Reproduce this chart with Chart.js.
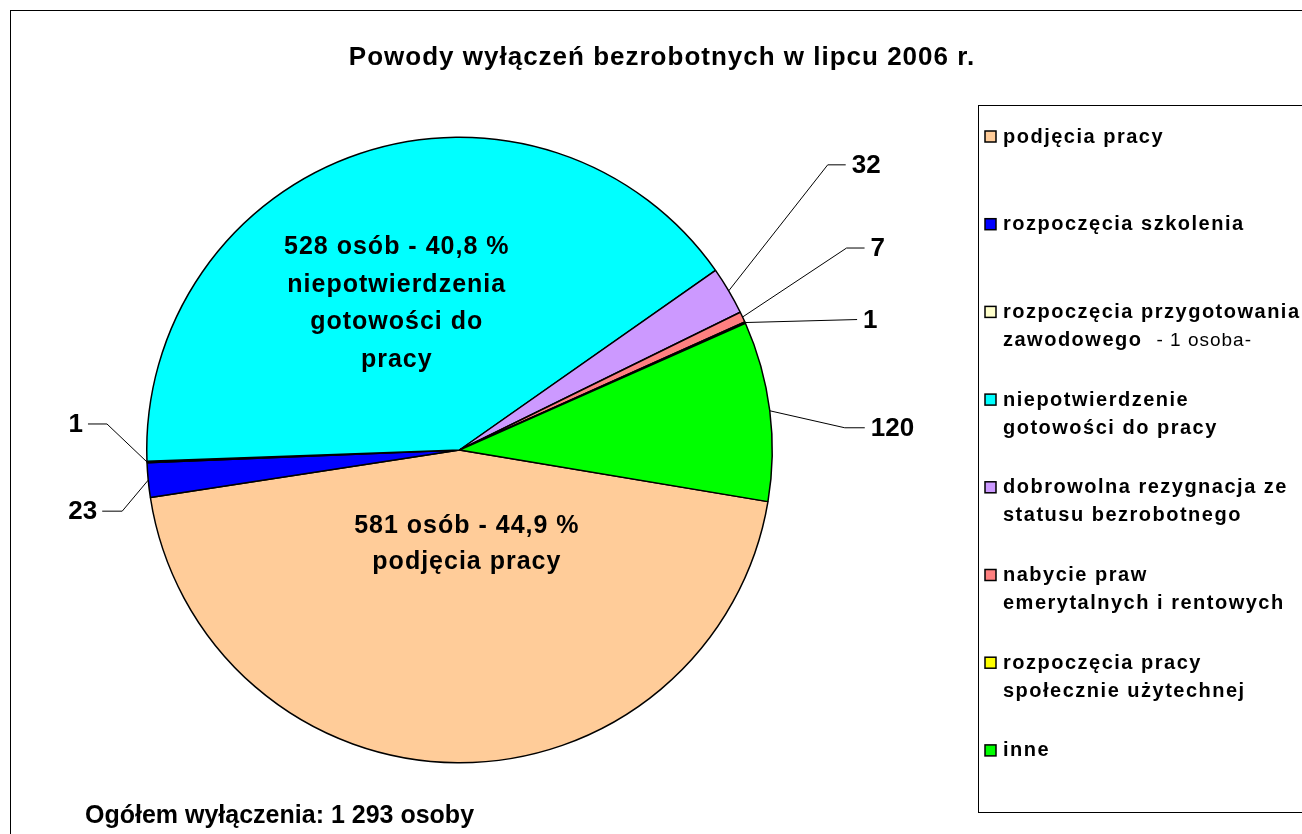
<!DOCTYPE html>
<html>
<head>
<meta charset="utf-8">
<title>Powody wyłączeń bezrobotnych</title>
<script src="https://cdn.jsdelivr.net/npm/chart.js@4.4.1/dist/chart.umd.min.js"></script>
<style>
    html, body { margin: 0; padding: 0; background: #fff; overflow: hidden; }
    #wrap { width: 1302px; height: 834px; }
</style>
</head>
<body>
<div id="wrap"><canvas id="myChart" width="1302" height="834"></canvas></div>
<script>
// categories (legend text, '\n' = line break)
var categories = [
    'podjęcia pracy',
    'rozpoczęcia szkolenia',
    'rozpoczęcia przygotowania\nzawodowego',
    'niepotwierdzenie\ngotowości do pracy',
    'dobrowolna rezygnacja ze\nstatusu bezrobotnego',
    'nabycie praw\nemerytalnych i rentowych',
    'rozpoczęcia pracy\nspołecznie użytechnej',
    'inne'
];
var values = [581, 23, 1, 528, 32, 7, 1, 120];
var colors = ['#FFCC99', '#0000FF', '#FFFFCC', '#00FFFF', '#CC99FF', '#FF8080', '#FFFF00', '#00FF00'];
var legendNotes = ['', '', '- 1 osoba-', '', '', '', '', ''];

var titleText = 'Powody wyłączeń bezrobotnych w lipcu 2006 r.';
var footerText = 'Ogółem wyłączenia: 1 293 osoby';

// big labels inside the two largest slices
var insideLabels = [
    { index: 3, extra: ['niepotwierdzenia', 'gotowości do', 'pracy'], r: 0.51, dx: -12, dy: 5, lineH: 37.5 },
    { index: 0, extra: ['podjęcia pracy'], r: 0.30, dx: 8, dy: 0, lineH: 36 }
];
// small value labels outside with leader lines (elbow offset from the slice edge, horizontal tail)
var outsideLabels = [
    { index: 4, ex: 99, ey: -126, tail: 18 },
    { index: 5, ex: 104, ey: -69, tail: 18 },
    { index: 6, ex: 112, ey: -3, tail: 0 },
    { index: 7, ex: 75, ey: 17, tail: 20 },
    { index: 2, ex: -40, ey: -38, tail: -19 },
    { index: 1, ex: -26, ey: 31, tail: -20 }
];

var FONT = '"Liberation Sans", Arial, sans-serif';

var decorPlugin = {
    id: 'decor',
    afterDraw: function (chart) {
        var ctx = chart.ctx;
        var meta = chart.getDatasetMeta(0);
        var total = values.reduce(function (a, b) { return a + b; }, 0);

        ctx.save();

        // outer frame
        ctx.strokeStyle = '#000';
        ctx.lineWidth = 1;
        ctx.strokeRect(10.5, 10.5, 1310, 840);

        // title
        ctx.fillStyle = '#000';
        ctx.textAlign = 'center';
        ctx.textBaseline = 'middle';
        ctx.font = 'bold 26px ' + FONT;
        ctx.letterSpacing = '1px';
        ctx.fillText(titleText, 662, 58);
        ctx.letterSpacing = '0px';

        // footer
        ctx.textAlign = 'left';
        ctx.font = 'bold 25px ' + FONT;
        ctx.fillText(footerText, 85, 816);

        // legend box
        ctx.lineWidth = 1;
        ctx.strokeRect(978.5, 105.5, 340, 707);
        var legTop = 136, legStep = 87.7;
        categories.forEach(function (cat, i) {
            var y = legTop + i * legStep;
            ctx.fillStyle = colors[i];
            ctx.fillRect(985, y - 5, 11, 11);
            ctx.strokeStyle = '#000';
            ctx.lineWidth = 1.5;
            ctx.strokeRect(985, y - 5, 11, 11);
            ctx.fillStyle = '#000';
            ctx.textAlign = 'left';
            var lines = cat.split('\n');
            lines.forEach(function (ln, j) {
                ctx.font = 'bold 20px ' + FONT;
                ctx.letterSpacing = '1.5px';
                ctx.fillText(ln, 1003, y + 1 + j * 28);
                if (j === lines.length - 1 && legendNotes[i]) {
                    var w = ctx.measureText(ln).width;
                    ctx.font = '19px ' + FONT;
                    ctx.letterSpacing = '1px';
                    ctx.fillText(legendNotes[i], 1003 + w + 14, y + 1 + j * 28);
                }
            });
        });
        ctx.letterSpacing = '0px';

        // inside labels
        ctx.textAlign = 'center';
        ctx.font = 'bold 25px ' + FONT;
        ctx.letterSpacing = '1px';
        insideLabels.forEach(function (lab) {
            var arc = meta.data[lab.index];
            var mid = (arc.startAngle + arc.endAngle) / 2;
            var cx = arc.x + Math.cos(mid) * arc.outerRadius * lab.r + lab.dx;
            var cy = arc.y + Math.sin(mid) * arc.outerRadius * lab.r + lab.dy;
            var pct = (values[lab.index] / total * 100).toFixed(1).replace('.', ',');
            var lines = [values[lab.index] + ' osób - ' + pct + ' %'].concat(lab.extra);
            var y0 = cy - (lines.length - 1) * lab.lineH / 2;
            lines.forEach(function (ln, j) {
                ctx.fillText(ln, cx, y0 + j * lab.lineH);
            });
        });
        ctx.letterSpacing = '0px';

        // outside labels with leader lines
        ctx.font = 'bold 26px ' + FONT;
        ctx.strokeStyle = '#000';
        ctx.lineWidth = 1;
        outsideLabels.forEach(function (lab) {
            var arc = meta.data[lab.index];
            var mid = (arc.startAngle + arc.endAngle) / 2;
            var sx = arc.x + Math.cos(mid) * arc.outerRadius;
            var sy = arc.y + Math.sin(mid) * arc.outerRadius;
            var ex = sx + lab.ex, ey = sy + lab.ey;
            var tx = ex + lab.tail;
            ctx.beginPath();
            ctx.moveTo(sx, sy);
            ctx.lineTo(ex, ey);
            ctx.lineTo(tx, ey);
            ctx.stroke();
            var right = lab.ex < 0;
            ctx.textAlign = right ? 'right' : 'left';
            ctx.fillText(String(values[lab.index]), right ? tx - 5 : tx + 6, ey + 1);
        });

        ctx.restore();
    }
};

var ctx = document.getElementById('myChart').getContext('2d');
var myChart = new Chart(ctx, {
    type: 'pie',
    data: {
        labels: categories,
        datasets: [{
            data: values,
            backgroundColor: colors,
            borderColor: '#000',
            borderWidth: 1.5
        }]
    },
    options: {
        responsive: false,
        animation: false,
        rotation: 99.5,
        layout: {
            padding: { left: 146, right: 529, top: 136, bottom: 70 }
        },
        plugins: {
            legend: { display: false },
            tooltip: { enabled: false },
            title: { display: false }
        }
    },
    plugins: [decorPlugin]
});
</script>
</body>
</html>
